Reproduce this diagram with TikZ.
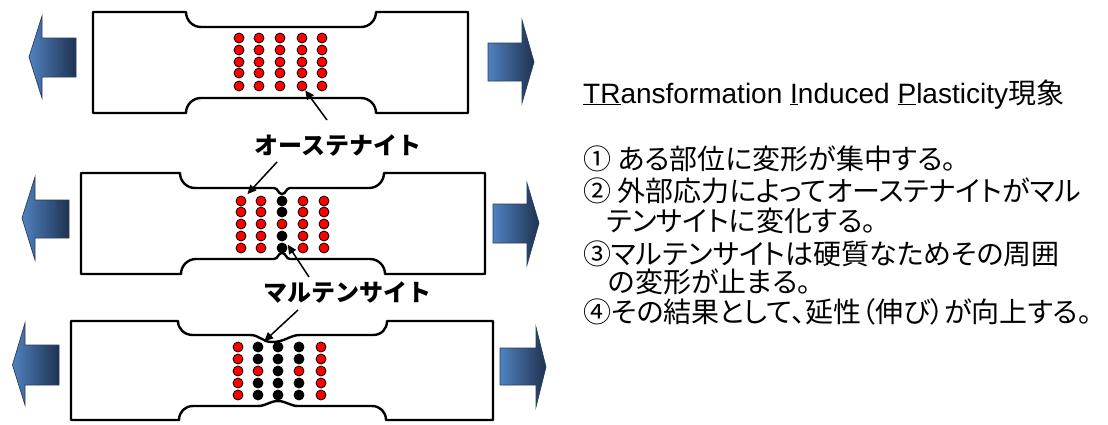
\documentclass[tikz,border=0pt]{standalone}
\usepackage{fontspec}
\setmainfont{Liberation Sans}
\newfontfamily\cjk[RawFeature=+palt]{Noto Sans CJK JP}
\newfontfamily\cjklabel{Noto Sans CJK JP}
\usetikzlibrary{arrows.meta}

\definecolor{pulllight}{RGB}{80,130,192}
\definecolor{pulldark}{RGB}{30,50,80}
\definecolor{pulledge}{RGB}{40,60,95}

\begin{document}
\begin{tikzpicture}[x=1pt,y=-1pt,
  specimen/.style={line width=2.4pt, line join=round, draw=black, fill=white},
  austenite/.style={circle, draw=black, line width=0.8pt, fill=red, minimum size=10pt, inner sep=0pt},
  martensite/.style={austenite, fill=black},
  leader/.style={draw=black, line width=1.5pt, -{Triangle[length=9pt,width=8pt]}},
  tag/.style={font=\cjklabel\bfseries\fontsize{24}{28}\selectfont, inner sep=0pt},
  body/.style={font=\cjk\fontsize{28}{31}\selectfont, anchor=base west, inner sep=0pt},
  pullshade/.style={left color=pulllight, right color=pulldark},
  pulledge/.style={draw=pulledge, line width=0.7pt, line join=miter},
]
\useasboundingbox (0,0) rectangle (1108,424);

% ---------- pulling arrows ----------
\foreach \p in {
  {(29,57) -- (42,16) -- (42,38) -- (76,38) -- (76,77) -- (42,77) -- (42,98) -- cycle},
  {(488,43) -- (522,43) -- (522,20) -- (534,62) -- (522,103) -- (522,81) -- (488,81) -- cycle},
  {(22,218) -- (35,177) -- (35,200) -- (69,200) -- (69,238) -- (35,238) -- (35,260) -- cycle},
  {(493,204) -- (527,204) -- (527,183) -- (539,223) -- (527,265) -- (527,243) -- (493,243) -- cycle},
  {(12.5,365) -- (25,323) -- (25,345) -- (59,345) -- (59,385) -- (25,385) -- (25,405) -- cycle},
  {(500,348) -- (536,348) -- (536,327) -- (546,367) -- (536,407) -- (536,385) -- (500,385) -- cycle}}
{
  \shade[pullshade] \p;
  \draw[pulledge] \p;
}

% ---------- specimen 1 (before deformation) ----------
\draw[specimen] (93,12) -- (186,12)
  .. controls (186,20.3) and (192.7,27) .. (201,27) -- (361,27)
  .. controls (369.3,27) and (376,20.3) .. (376,12) -- (468,12) -- (468,113) -- (376,113)
  .. controls (376,104.7) and (369.3,98) .. (361,98) -- (201,98)
  .. controls (192.7,98) and (186,104.7) .. (186,113) -- (93,113) -- cycle;

% ---------- specimen 2 (local necking) ----------
\draw[specimen] (81,173) -- (180,173)
  .. controls (180,181.3) and (186.7,188) .. (195,188) -- (274,188)
  .. controls (278,188) and (278,194) .. (282,194)
  .. controls (286,194) and (286,188) .. (290,188) -- (369,188)
  .. controls (377.3,188) and (384,181.3) .. (384,173) -- (485,173) -- (485,274) -- (385,274)
  .. controls (385,265.7) and (378.3,259) .. (370,259) -- (290,259)
  .. controls (286,259) and (286,253) .. (282,253)
  .. controls (278,253) and (278,259) .. (274,259) -- (196,259)
  .. controls (187.7,259) and (181,265.7) .. (181,274) -- (81,274) -- cycle;

% ---------- specimen 3 (after transformation) ----------
\draw[specimen] (71,321) -- (178,321)
  .. controls (178,329) and (184.5,335) .. (193,335) -- (250,335)
  .. controls (260,335) and (262,342) .. (272,342)
  .. controls (285,342) and (290,335) .. (300,335) -- (373,335)
  .. controls (381.5,335) and (387,329) .. (387,321) -- (493,321) -- (493,420) -- (386,420)
  .. controls (386,412) and (380,406) .. (372,406) -- (298,406)
  .. controls (290,406) and (286,401) .. (278,401)
  .. controls (270,401) and (266,406) .. (258,406) -- (193,406)
  .. controls (185,406) and (179,412) .. (179,420) -- (71,420) -- cycle;

% ---------- grains ----------
\foreach \c/\x in {1/239,2/259,3/280,4/302,5/322}
  \foreach \r/\y in {1/38,2/50,3/62,4/73,5/86}
    \node[austenite] (A\c\r) at (\x,\y) {};

\foreach \c/\x in {1/241,2/261,3/282,4/303,5/324}
  \foreach \r/\y in {1/201,2/212,3/224,4/236,5/248} {
    \def\kind{austenite}
    \ifnum\c=3 \ifnum\r=3 \else\def\kind{martensite}\fi\fi
    \node[\kind] (B\c\r) at (\x,\y) {};
  }

\foreach \c/\x in {1/238,2/258,3/278,4/299,5/321}
  \foreach \r/\y in {1/347,2/359,3/371,4/383,5/395} {
    \def\kind{austenite}
    \ifnum\c>1 \ifnum\c<5 \def\kind{martensite}\fi\fi
    \ifnum\r=3 \ifnum\c=3 \else\def\kind{austenite}\fi\fi
    \node[\kind] (C\c\r) at (\x,\y) {};
  }

% ---------- phase labels and leaders ----------
\node[tag] (aus) at (338,145) {オーステナイト};
\node[tag] (mar) at (347,293) {マルテンサイト};

\coordinate (ausup) at (327,120);
\coordinate (ausdown) at (277,162);
\coordinate (marup) at (309,277);
\coordinate (mardown) at (298,310);

\draw[leader] (ausup) -- (A45);
\draw[leader, shorten >=4pt] (ausdown) -- (B11);
\draw[leader, shorten >=5pt] (marup) -- (B34);
\draw[leader, shorten >=3pt] (mardown) -- (C21);

% ---------- explanation ----------
\node[anchor=base west, inner sep=0pt, font=\fontsize{28}{32}\selectfont] (title) at (583,103)
  {\underline{TR}ansformation \underline{I}nduced \underline{P}lasticity{\cjk 現象}};
\node[body] (s1) at (583,169) {① ある部位に変形が集中する。};
\node[body] (s2) at (583,201) {② 外部応力によってオーステナイトがマル};
\node[body] (s2b) at (606,231) {テンサイトに変化する。};
\node[body] (s3) at (583,264) {③マルテンサイトは硬質なためその周囲};
\node[body] (s3b) at (608,292) {の変形が止まる。};
\node[body] (s4) at (583,322) {④その結果として、延性（伸び）が向上する。};
\end{tikzpicture}
\end{document}
